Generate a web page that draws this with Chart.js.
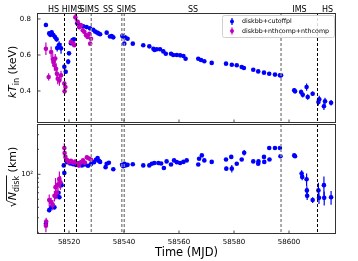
<!DOCTYPE html>
<html>
<head>
<meta charset="utf-8">
<script src="https://cdn.jsdelivr.net/npm/chart.js@4"></script>
<style>
  body { margin: 0; background: #fff; }
  #wrap { position: relative; width: 358px; height: 261px; }
  canvas { position: absolute; left: 0; }
  #topChart { top: 0; }
  #botChart { top: 124px; }
</style>
</head>
<body>
<div id="wrap">
  <canvas id="topChart" width="358" height="124"></canvas>
  <canvas id="botChart" width="358" height="137"></canvas>
</div>
<script>
// kT_in, diskbb+cutoffpl
const blueKtMjd = [58511.6, 58512.8, 58513.2, 58513.7, 58514.3, 58514.9, 58515.5, 58515.7, 58516.4, 58517.1,
  58518.3, 58518.8, 58519.7, 58520.0, 58520.7, 58521.3, 58521.8, 58523.0, 58524.0, 58525.2,
  58526.4, 58527.6, 58528.8, 58529.5, 58530.2, 58530.7, 58531.3, 58533.7, 58534.9, 58535.5,
  58536.1, 58539.4, 58540.0, 58540.1, 58540.5, 58541.3, 58543.2, 58547.0, 58549.2, 58550.7,
  58551.1, 58551.9, 58553.1, 58554.3, 58555.2, 58557.1, 58557.9, 58559.2, 58560.4, 58561.6,
  58562.4, 58567.0, 58568.0, 58569.2, 58571.9, 58577.1, 58579.2, 58581.0, 58582.8, 58583.6,
  58587.0, 58588.8, 58590.9, 58592.8, 58594.9, 58596.7, 58597.1, 58601.9, 58602.2, 58604.4,
  58605.0, 58606.4, 58606.8, 58608.6, 58610.7, 58611.0, 58612.7, 58613.1, 58615.3];
const blueKt = [0.767, 0.720, 0.712, 0.726, 0.711, 0.700, 0.687, 0.639, 0.656, 0.637,
  0.535, 0.507, 0.563, 0.609, 0.665, 0.683, 0.687, 0.776, 0.766, 0.760,
  0.755, 0.748, 0.740, 0.730, 0.725, 0.720, 0.715, 0.724, 0.703, 0.705,
  0.698, 0.706, 0.700, 0.663, 0.697, 0.690, 0.663, 0.654, 0.648, 0.635,
  0.628, 0.632, 0.632, 0.620, 0.607, 0.607, 0.600, 0.600, 0.598, 0.594,
  0.579, 0.579, 0.572, 0.565, 0.556, 0.552, 0.546, 0.543, 0.533, 0.528,
  0.518, 0.509, 0.502, 0.496, 0.491, 0.487, 0.487, 0.404, 0.398, 0.394,
  0.379, 0.422, 0.367, 0.385, 0.339, 0.354, 0.315, 0.343, 0.335];
const blueKtErr = [0.012, 0.01, 0.01, 0.01, 0.012, 0.012, 0.012, 0.02, 0.02, 0.03,
  0.015, 0.012, 0.015, 0.01, 0.008, 0.008, 0.008, 0.006, 0.005, 0.005,
  0.005, 0.005, 0.005, 0.005, 0.005, 0.005, 0.005, 0.005, 0.005, 0.005,
  0.005, 0.005, 0.005, 0.005, 0.005, 0.005, 0.005, 0.004, 0.004, 0.004,
  0.004, 0.004, 0.004, 0.004, 0.004, 0.004, 0.004, 0.004, 0.004, 0.004,
  0.004, 0.004, 0.004, 0.004, 0.004, 0.004, 0.004, 0.004, 0.004, 0.004,
  0.004, 0.004, 0.004, 0.004, 0.004, 0.004, 0.004, 0.012, 0.01, 0.015,
  0.015, 0.02, 0.015, 0.012, 0.02, 0.02, 0.02, 0.02, 0.015];

// kT_in, diskbb+nthcomp+nthcomp
const magKtMjd = [58511.6, 58512.6, 58513.5, 58514.1, 58514.3, 58514.7, 58515.0, 58515.3, 58515.6, 58515.9,
  58516.5, 58517.1, 58518.3, 58518.4, 58518.7, 58520.7, 58521.6, 58521.9, 58522.3, 58523.2,
  58523.7, 58524.4, 58525.0, 58525.6, 58526.2, 58526.8, 58527.4, 58527.7, 58528.0];
const magKt = [0.635, 0.478, 0.617, 0.578, 0.561, 0.543, 0.580, 0.524, 0.496, 0.468,
  0.459, 0.487, 0.441, 0.398, 0.422, 0.672, 0.663, 0.654, 0.810, 0.783,
  0.755, 0.765, 0.737, 0.728, 0.709, 0.700, 0.718, 0.663, 0.690];
const magKtErr = [0.035, 0.02, 0.03, 0.03, 0.025, 0.03, 0.025, 0.03, 0.03, 0.03,
  0.03, 0.025, 0.015, 0.012, 0.015, 0.01, 0.01, 0.01, 0.02, 0.015,
  0.012, 0.012, 0.01, 0.01, 0.01, 0.01, 0.01, 0.008, 0.01];

// sqrt(N_disk) in km, diskbb+cutoffpl
const blueNMjd = [58511.6, 58512.8, 58513.5, 58514.2, 58514.7, 58515.6, 58516.2, 58516.5, 58517.3, 58518.1,
  58518.3, 58519.3, 58520.4, 58521.5, 58522.5, 58523.6, 58524.7, 58525.8, 58526.9, 58528.0,
  58529.1, 58529.8, 58530.4, 58530.9, 58531.3, 58533.3, 58533.7, 58534.5, 58536.1, 58539.3,
  58539.7, 58540.2, 58540.5, 58541.3, 58543.2, 58547.0, 58549.2, 58550.1, 58551.0, 58552.5,
  58553.5, 58554.5, 58555.5, 58557.1, 58558.2, 58559.2, 58560.4, 58561.6, 58562.8, 58567.0,
  58567.3, 58568.3, 58569.2, 58571.9, 58577.1, 58577.2, 58579.0, 58579.2, 58581.0, 58582.8,
  58583.7, 58587.0, 58588.8, 58588.9, 58590.9, 58591.0, 58592.8, 58592.9, 58594.9, 58596.7,
  58596.9, 58601.9, 58602.2, 58604.6, 58604.8, 58606.4, 58606.5, 58606.6, 58608.6, 58610.7,
  58610.9, 58612.7, 58612.8, 58615.3];
const blueN = [25.4, 37, 40, 41, 40, 55, 60, 53, 74, 128,
  104, 140, 135, 132, 130, 136, 128, 131, 127, 133,
  140, 150, 157, 145, 141, 122, 134, 138, 115, 130,
  125, 134, 128, 130, 132, 128, 128, 134, 137, 137,
  135, 119, 143, 131, 147, 140, 137, 141, 147, 131,
  154, 169, 147, 141, 151, 117, 162, 117, 134, 151,
  182, 143, 134, 143, 162, 141, 207, 151, 207, 207,
  165, 169, 165, 102, 93, 87, 64, 55, 49, 64,
  52, 74, 52, 53];
const blueNErr = [2, 2, 2, 2, 2, 3, 3, 3, 4, 4,
  4, 3, 3, 3, 3, 3, 3, 3, 3, 3,
  3, 3, 3, 3, 3, 3, 3, 3, 3, 3,
  3, 3, 3, 3, 3, 3, 3, 3, 3, 3,
  3, 3, 3, 3, 3, 3, 3, 3, 3, 3,
  3, 3, 3, 3, 4, 6, 4, 12, 4, 6,
  14, 4, 4, 4, 4, 4, 4, 4, 4, 4,
  4, 4, 4, 10, 8, 15, 8, 6, 4, 15,
  8, 20, 10, 10];

// sqrt(N_disk) in km, diskbb+nthcomp+nthcomp
const magNMjd = [58511.6, 58511.7, 58512.8, 58513.5, 58514.1, 58514.7, 58515.1, 58515.6, 58516.0, 58516.5,
  58516.9, 58518.3, 58518.4, 58518.7, 58519.3, 58520.0, 58520.7, 58521.5, 58522.2, 58522.9,
  58523.6, 58524.4, 58525.1, 58525.8, 58526.5, 58527.3, 58528.0];
const magN = [24, 27, 49, 46, 43, 55, 70, 60, 75, 88,
  80, 207, 180, 162, 148, 140, 145, 138, 142, 135,
  128, 140, 147, 138, 160, 155, 150];
const magNErr = [4, 3, 8, 6, 6, 8, 20, 10, 15, 20,
  15, 30, 20, 12, 8, 8, 8, 8, 8, 8,
  8, 8, 8, 8, 10, 8, 8];

const xTicks = [58520, 58540, 58560, 58580, 58600];
const ktTicks = [0.4, 0.6, 0.8];
const nMinorTicks = [20, 30, 40, 50, 60, 70, 80, 90, 200, 300, 400];

// state transitions
const blackLines = [58518.3, 58522.4, 58610.0];
const grayLines = [58528.1, 58539.2, 58540.1, 58597.1];
const stateNames = ["HS", "HIMS", "SIMS", "SS", "SIMS", "SS", "IMS", "HS"];
const stateMjd = [58514.4, 58521.1, 58527.4, 58534.2, 58540.9, 58565.1, 58603.8, 58614.0];

const BLUE = "#0000ff";
const MAG = "#bf00bf";
const FONT = "DejaVu Sans";

const pts = (xs, ys, es) => xs.map((x, i) => ({ x: x, y: ys[i], e: es[i] }));

function drawErrorBars(chart, args) {
  const ds = chart.data.datasets[args.index];
  const { ctx, chartArea: a } = chart;
  const x = chart.scales.x, y = chart.scales.y;
  ctx.save();
  ctx.beginPath();
  ctx.rect(a.left, a.top, a.right - a.left, a.bottom - a.top);
  ctx.clip();
  ctx.strokeStyle = ds.backgroundColor;
  ctx.lineWidth = 1.2;
  ds.data.forEach((p) => {
    const px = x.getPixelForValue(p.x);
    ctx.beginPath();
    ctx.moveTo(px, y.getPixelForValue(p.y - p.e));
    ctx.lineTo(px, y.getPixelForValue(p.y + p.e));
    ctx.stroke();
  });
  ctx.restore();
}

function drawFrame(chart, yMajor, yMinor) {
  const { ctx, chartArea: a } = chart;
  const x = chart.scales.x, y = chart.scales.y;
  ctx.save();
  // state lines
  ctx.lineWidth = 1;
  ctx.setLineDash([3, 2]);
  ctx.strokeStyle = "#000";
  blackLines.forEach((m) => {
    const px = Math.round(x.getPixelForValue(m)) + 0.5;
    ctx.beginPath(); ctx.moveTo(px, a.top); ctx.lineTo(px, a.bottom); ctx.stroke();
  });
  ctx.strokeStyle = "#888";
  ctx.lineWidth = 1.4;
  grayLines.forEach((m) => {
    const px = x.getPixelForValue(m);
    ctx.beginPath(); ctx.moveTo(px, a.top); ctx.lineTo(px, a.bottom); ctx.stroke();
  });
  ctx.setLineDash([]);
  // ticks, pointing inward
  ctx.strokeStyle = "#222";
  ctx.lineWidth = 0.8;
  xTicks.forEach((v) => {
    const px = x.getPixelForValue(v);
    ctx.beginPath(); ctx.moveTo(px, a.bottom); ctx.lineTo(px, a.bottom - 3.5); ctx.stroke();
  });
  yMajor.forEach((v) => {
    const py = y.getPixelForValue(v);
    ctx.beginPath(); ctx.moveTo(a.left, py); ctx.lineTo(a.left + 3.5, py); ctx.stroke();
  });
  yMinor.forEach((v) => {
    const py = y.getPixelForValue(v);
    ctx.beginPath(); ctx.moveTo(a.left, py); ctx.lineTo(a.left + 2, py); ctx.stroke();
  });
  // frame
  ctx.strokeStyle = "#333";
  ctx.lineWidth = 1;
  ctx.strokeRect(a.left + 0.5, a.top + 0.5, a.right - a.left - 1, a.bottom - a.top - 1);
  ctx.restore();
}

// draws rotated text made of [text, font, baseline shift] pieces
function drawRotated(ctx, cx, cy, parts, overline) {
  ctx.save();
  ctx.translate(cx, cy);
  ctx.rotate(-Math.PI / 2);
  ctx.fillStyle = "#000";
  ctx.textBaseline = "alphabetic";
  ctx.textAlign = "left";
  let total = 0;
  const widths = parts.map((p) => { ctx.font = p[1]; const w = ctx.measureText(p[0]).width; total += w; return w; });
  let pos = -total / 2;
  const starts = [];
  parts.forEach((p, i) => {
    ctx.font = p[1];
    starts.push(pos);
    ctx.fillText(p[0], pos, p[2]);
    pos += widths[i];
  });
  if (overline) {
    ctx.strokeStyle = "#000";
    ctx.lineWidth = 0.9;
    ctx.beginPath();
    ctx.moveTo(starts[overline[0]] + widths[overline[0]] - 0.5, overline[2]);
    ctx.lineTo(starts[overline[1]] + widths[overline[1]] + 0.5, overline[2]);
    ctx.stroke();
  }
  ctx.restore();
}

const topPlugin = {
  id: "topPanel",
  beforeDatasetDraw: drawErrorBars,
  afterDatasetsDraw(chart) { drawFrame(chart, ktTicks, []); },
  afterDraw(chart) {
    const { ctx } = chart;
    const x = chart.scales.x;
    ctx.save();
    // state names above panel
    ctx.font = "8px '" + FONT + "'";
    ctx.fillStyle = "#000";
    ctx.textAlign = "center";
    ctx.textBaseline = "alphabetic";
    stateNames.forEach((s, i) => ctx.fillText(s, x.getPixelForValue(stateMjd[i]), 11.5));
    // legend
    ctx.fillStyle = "rgba(255,255,255,0.85)";
    ctx.strokeStyle = "#d0d0d0";
    ctx.lineWidth = 1;
    ctx.beginPath();
    ctx.roundRect(222.5, 15.5, 112, 22, 2);
    ctx.fill(); ctx.stroke();
    ctx.font = "6.3px '" + FONT + "'";
    ctx.textAlign = "left";
    ctx.textBaseline = "middle";
    chart.data.datasets.forEach((ds, i) => {
      const yy = 21.5 + i * 9.5;
      ctx.strokeStyle = ds.backgroundColor;
      ctx.lineWidth = 1.2;
      ctx.beginPath(); ctx.moveTo(232, yy - 3.5); ctx.lineTo(232, yy + 3.5); ctx.stroke();
      ctx.fillStyle = ds.backgroundColor;
      ctx.beginPath(); ctx.arc(232, yy, 2, 0, Math.PI * 2); ctx.fill();
      ctx.fillStyle = "#000";
      ctx.fillText(ds.label, 242, yy);
    });
    ctx.restore();
    drawRotated(ctx, 16, 72, [
      ["kT", "italic 11px '" + FONT + "'", 0],
      ["in", "8px '" + FONT + "'", 2.5],
      [" (keV)", "11px '" + FONT + "'", 0],
    ]);
  },
};

const botPlugin = {
  id: "botPanel",
  beforeDatasetDraw: drawErrorBars,
  afterDatasetsDraw(chart) { drawFrame(chart, [100], nMinorTicks); },
  afterDraw(chart) {
    drawRotated(chart.ctx, 16, 53, [
      ["\u221A", "11px '" + FONT + "'", 0],
      ["N", "italic 11px '" + FONT + "'", 0],
      ["disk", "8px '" + FONT + "'", 2.5],
      [" (km)", "11px '" + FONT + "'", 0],
    ], [0, 2, -9.5]);
  },
};

const xMin = 58508.36, xMax = 58617.09;
const tickFont = { family: FONT, size: 7 };
// keep the plot box fixed: no label overhang padding
const noPad = (s) => { s.paddingTop = 0; s.paddingBottom = 0; s.paddingLeft = 0; s.paddingRight = 0; };

new Chart(document.getElementById("topChart"), {
  type: "scatter",
  data: {
    datasets: [
      { label: "diskbb+cutoffpl", data: pts(blueKtMjd, blueKt, blueKtErr), backgroundColor: BLUE, order: 1 },
      { label: "diskbb+nthcomp+nthcomp", data: pts(magKtMjd, magKt, magKtErr), backgroundColor: MAG, order: 0 },
    ],
  },
  options: {
    responsive: false,
    animation: false,
    events: [],
    elements: { point: { radius: 2.3, borderWidth: 0, hoverRadius: 2.3 } },
    layout: { autoPadding: false, padding: { left: 0, right: 22, top: 13, bottom: 1 } },
    plugins: { legend: { display: false }, tooltip: { enabled: false } },
    scales: {
      x: { type: "linear", min: xMin, max: xMax, display: false, afterFit: noPad },
      y: {
        type: "linear",
        min: 0.2222,
        max: 0.8333,
        afterFit: (s) => { s.width = 37; noPad(s); },
        afterBuildTicks: (s) => { s.ticks = ktTicks.map((v) => ({ value: v })); },
        grid: { display: false, drawTicks: false },
        border: { display: false },
        ticks: { font: tickFont, color: "#000", padding: 6, callback: (v) => v.toFixed(1) },
      },
    },
  },
  plugins: [topPlugin],
});

new Chart(document.getElementById("botChart"), {
  type: "scatter",
  data: {
    datasets: [
      { label: "diskbb+cutoffpl", data: pts(blueNMjd, blueN, blueNErr), backgroundColor: BLUE, order: 1 },
      { label: "diskbb+nthcomp+nthcomp", data: pts(magNMjd, magN, magNErr), backgroundColor: MAG, order: 0 },
    ],
  },
  options: {
    responsive: false,
    animation: false,
    events: [],
    elements: { point: { radius: 2.3, borderWidth: 0, hoverRadius: 2.3 } },
    layout: { autoPadding: false, padding: { left: 0, right: 22, top: 0, bottom: 0 } },
    plugins: { legend: { display: false }, tooltip: { enabled: false } },
    scales: {
      x: {
        type: "linear",
        min: xMin,
        max: xMax,
        afterFit: (s) => { s.height = 27; noPad(s); },
        afterBuildTicks: (s) => { s.ticks = xTicks.map((v) => ({ value: v })); },
        grid: { display: false, drawTicks: false },
        border: { display: false },
        ticks: { font: tickFont, color: "#000", padding: 4, maxRotation: 0, callback: (v) => String(v) },
        title: { display: true, text: "Time (MJD)", color: "#000", font: { family: FONT, size: 11.5 }, padding: { top: 0, bottom: 1 } },
      },
      y: {
        type: "logarithmic",
        min: 19.09,
        max: 403.6,
        afterFit: (s) => { s.width = 37; noPad(s); },
        afterBuildTicks: (s) => { s.ticks = [{ value: 100 }]; },
        grid: { display: false, drawTicks: false },
        border: { display: false },
        ticks: { font: tickFont, color: "#000", padding: 4, callback: () => "10\u00B2" },
      },
    },
  },
  plugins: [botPlugin],
});
</script>
</body>
</html>
